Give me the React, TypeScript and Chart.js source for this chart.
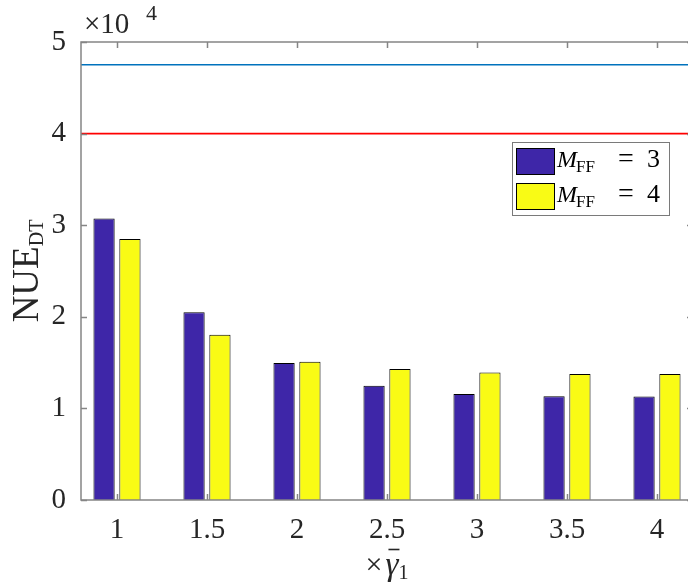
import React, { useEffect, useRef } from 'react';
import { Chart, registerables } from 'chart.js';

Chart.register(...registerables);

// Scaling factor of the mean SNR (x axis)
const gammaFactors = [1, 1.5, 2, 2.5, 3, 3.5, 4];
// NUE of direct transmission for M_FF = 3 and M_FF = 4
const nueMff3 = [30730, 20490, 14950, 12480, 11560, 11340, 11310];
const nueMff4 = [28500, 18050, 15100, 14290, 13930, 13750, 13750];
const mffValues = [3, 4];
// Reference levels drawn as horizontal lines
const upperRefLevel = 47520;
const lowerRefLevel = 40000;
const yTickValues = [0, 10000, 20000, 30000, 40000, 50000];
const yExponent = 4;

const SERIF = '"Liberation Serif", serif';
const TEXT = '#262626';
const AXIS = '#858585';
const BAR_COLORS = ['#3E26A8', '#F9FB15'];

const axesPlugin = {
  id: 'matlabAxes',
  afterDatasetsDraw(chart: any) {
    const { ctx, chartArea: a, scales } = chart;
    const xs = scales.x;
    const ys = scales.y;
    ctx.save();
    ctx.strokeStyle = AXIS;
    ctx.lineWidth = 1.5;
    ctx.strokeRect(a.left, a.top, a.right - a.left, a.bottom - a.top);
    const t = 6;
    ctx.beginPath();
    xs.ticks.forEach((tk: any) => {
      const px = Math.round(xs.getPixelForValue(tk.value)) + 0.5;
      ctx.moveTo(px, a.bottom);
      ctx.lineTo(px, a.bottom - t);
      ctx.moveTo(px, a.top);
      ctx.lineTo(px, a.top + t);
    });
    ys.ticks.forEach((tk: any) => {
      const py = Math.round(ys.getPixelForValue(tk.value)) + 0.5;
      ctx.moveTo(a.left, py);
      ctx.lineTo(a.left + t, py);
      ctx.moveTo(a.right, py);
      ctx.lineTo(a.right - t, py);
    });
    ctx.stroke();
    ctx.restore();
  },
  afterDraw(chart: any) {
    const { ctx, chartArea: a } = chart;
    ctx.save();
    ctx.fillStyle = TEXT;
    ctx.textBaseline = 'alphabetic';
    ctx.textAlign = 'left';

    // exponent label "×10^4"
    ctx.font = `29px ${SERIF}`;
    ctx.fillText('\u00D710', a.left + 3, a.top - 9);
    ctx.font = `22px ${SERIF}`;
    ctx.fillText(String(yExponent), a.left + 65, a.top - 22);

    // y-axis label NUE_DT
    ctx.save();
    ctx.translate(38, (a.top + a.bottom) / 2);
    ctx.rotate(-Math.PI / 2);
    ctx.font = `37px ${SERIF}`;
    const wMain = ctx.measureText('NUE').width;
    ctx.font = `20px ${SERIF}`;
    const wSub = ctx.measureText('DT').width;
    const start = -(wMain + wSub) / 2;
    ctx.font = `37px ${SERIF}`;
    ctx.fillText('NUE', start, 0);
    ctx.font = `20px ${SERIF}`;
    ctx.fillText('DT', start + wMain, 5);
    ctx.restore();

    // x-axis label ×γ̄_1
    const cx = (a.left + a.right) / 2;
    const base = a.bottom + 75;
    ctx.font = `30px ${SERIF}`;
    const wTimes = ctx.measureText('\u00D7').width;
    ctx.font = `italic 33px ${SERIF}`;
    const wGamma = ctx.measureText('\u03B3').width;
    ctx.font = `20px ${SERIF}`;
    const wOne = ctx.measureText('1').width;
    let x0 = cx - (wTimes + 3 + wGamma + wOne) / 2;
    ctx.font = `30px ${SERIF}`;
    ctx.fillText('\u00D7', x0, base - 1);
    x0 += wTimes + 3;
    ctx.font = `italic 33px ${SERIF}`;
    ctx.fillText('\u03B3', x0, base);
    ctx.strokeStyle = TEXT;
    ctx.lineWidth = 1.6;
    ctx.beginPath();
    ctx.moveTo(x0 + 3, base - 25.5);
    ctx.lineTo(x0 + wGamma + 1, base - 25.5);
    ctx.stroke();
    x0 += wGamma;
    ctx.font = `20px ${SERIF}`;
    ctx.fillText('1', x0, base + 4);

    // legend
    const lx = a.right - 181;
    const ly = a.top + 100;
    const lw = 157;
    const lh = 73;
    ctx.fillStyle = '#ffffff';
    ctx.fillRect(lx, ly, lw, lh);
    ctx.strokeStyle = '#7a7a7a';
    ctx.lineWidth = 1;
    ctx.strokeRect(lx + 0.5, ly + 0.5, lw, lh);
    const bars = chart.data.datasets.filter((d: any) => d.type === 'bar');
    bars.forEach((d: any, i: number) => {
      const ry = ly + 6 + i * 35;
      ctx.fillStyle = d.backgroundColor;
      ctx.fillRect(lx + 4, ry, 39, 27);
      ctx.strokeStyle = '#000';
      ctx.lineWidth = 1;
      ctx.strokeRect(lx + 4.5, ry + 0.5, 38, 26);
      const tb = ry + 19;
      ctx.fillStyle = '#000';
      ctx.font = `italic 24px ${SERIF}`;
      ctx.fillText('M', lx + 45, tb);
      const wm = ctx.measureText('M').width;
      ctx.font = `17px ${SERIF}`;
      ctx.fillText('FF', lx + 45 + wm - 1, tb + 5);
      ctx.font = `28px ${SERIF}`;
      ctx.fillText('=', lx + 106, tb);
      ctx.font = `26px ${SERIF}`;
      ctx.fillText(String(mffValues[i]), lx + 135, tb);
    });
    ctx.restore();
  },
};

export default function App() {
  const canvasRef = useRef<HTMLCanvasElement | null>(null);

  useEffect(() => {
    const canvas = canvasRef.current;
    if (!canvas) return;
    let chart: Chart | null = null;
    let cancelled = false;
    const xMin = gammaFactors[0] - 0.2;
    const xMax = gammaFactors[gammaFactors.length - 1] + 0.2;

    const build = () => {
      if (cancelled) return;
      chart = new Chart(canvas, {
        data: {
          datasets: [
            {
              type: 'bar',
              label: 'M_FF = 3',
              data: gammaFactors.map((g, i) => ({ x: g, y: nueMff3[i] })),
              backgroundColor: BAR_COLORS[0],
              borderColor: '#000',
              borderWidth: 1,
              categoryPercentage: 0.575,
              barPercentage: 0.82,
            },
            {
              type: 'bar',
              label: 'M_FF = 4',
              data: gammaFactors.map((g, i) => ({ x: g, y: nueMff4[i] })),
              backgroundColor: BAR_COLORS[1],
              borderColor: '#000',
              borderWidth: 1,
              categoryPercentage: 0.575,
              barPercentage: 0.82,
            },
            {
              type: 'line',
              label: 'upper',
              data: [
                { x: xMin, y: upperRefLevel },
                { x: xMax, y: upperRefLevel },
              ],
              borderColor: '#0072BD',
              borderWidth: 1.6,
              pointRadius: 0,
            },
            {
              type: 'line',
              label: 'lower',
              data: [
                { x: xMin, y: lowerRefLevel },
                { x: xMax, y: lowerRefLevel },
              ],
              borderColor: '#FF0000',
              borderWidth: 1.6,
              pointRadius: 0,
            },
          ],
        } as any,
        options: {
          responsive: false,
          animation: false,
          devicePixelRatio: 1,
          layout: { padding: { top: 42, right: 27, left: 0, bottom: 0 } },
          plugins: { legend: { display: false }, tooltip: { enabled: false } },
          scales: {
            x: {
              type: 'linear',
              min: xMin,
              max: xMax,
              offset: false,
              grid: { display: false, drawTicks: false },
              border: { display: false },
              afterBuildTicks: (s: any) => {
                s.ticks = gammaFactors.map((v) => ({ value: v }));
              },
              afterFit: (s: any) => {
                s.height = 84;
              },
              ticks: {
                font: { family: SERIF, size: 29 },
                color: TEXT,
                padding: 13,
                maxRotation: 0,
                autoSkip: false,
                callback: (v: any) => String(v),
              },
            },
            y: {
              type: 'linear',
              min: yTickValues[0],
              max: yTickValues[yTickValues.length - 1],
              grid: { display: false, drawTicks: false },
              border: { display: false },
              afterBuildTicks: (s: any) => {
                s.ticks = yTickValues.map((v) => ({ value: v }));
              },
              afterFit: (s: any) => {
                s.width = 81;
              },
              ticks: {
                font: { family: SERIF, size: 29 },
                color: TEXT,
                padding: 15,
                callback: (v: any) => String(v / Math.pow(10, yExponent)),
              },
            },
          },
        } as any,
        plugins: [axesPlugin],
      });
    };

    const fonts: any = (document as any).fonts;
    if (fonts && fonts.load) {
      Promise.all([
        fonts.load('29px "Liberation Serif"'),
        fonts.load('italic 29px "Liberation Serif"'),
      ])
        .catch(() => null)
        .then(build);
    } else {
      build();
    }

    return () => {
      cancelled = true;
      if (chart) chart.destroy();
    };
  }, []);

  return (
    <div
      style={{
        position: 'fixed',
        left: 0,
        top: 0,
        width: 688,
        height: 584,
        overflow: 'hidden',
        background: '#fff',
      }}
    >
      <canvas ref={canvasRef} width={720} height={584} style={{ width: 720, height: 584, display: 'block' }} />
    </div>
  );
}
